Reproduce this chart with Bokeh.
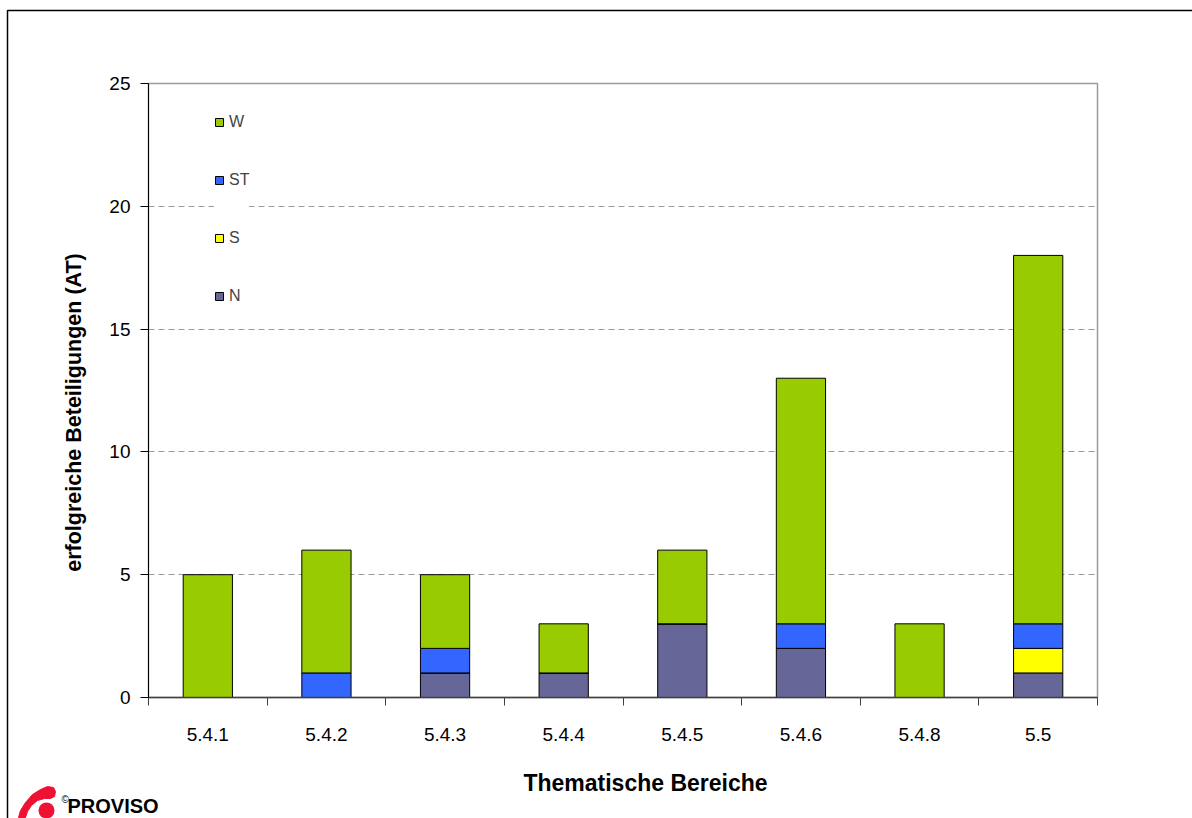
import numpy as np
from bokeh.plotting import figure
from bokeh.layouts import column
from bokeh.models import FixedTicker, Legend, LegendItem, ColumnDataSource
from bokeh.core.properties import value
from bokeh.embed import file_html
from bokeh.resources import INLINE

# Thematic areas and successful participations per stakeholder group
categories = ["5.4.1", "5.4.2", "5.4.3", "5.4.4", "5.4.5", "5.4.6", "5.4.8", "5.5"]
N  = [0, 0, 1, 1, 3, 2, 0, 1]
S  = [0, 0, 0, 0, 0, 0, 0, 1]
ST = [0, 1, 1, 0, 0, 1, 0, 1]
W  = [5, 5, 3, 2, 3, 10, 3, 15]

groups = ["N", "S", "ST", "W"]
colors = {"N": "#666699", "S": "#FFFF00", "ST": "#3366FF", "W": "#99CC00"}
y_ticks = [0, 5, 10, 15, 20, 25]
x_title = "Thematische Bereiche"
y_title = "erfolgreiche Beteiligungen (AT)"

FONT = "Liberation Sans"
WIDTH, HEIGHT = 1192, 818

# ---- page layer: outer frame, axis titles and logo (1 unit = 1 pixel) ----
page = figure(width=WIDTH, height=HEIGHT, x_range=(0, WIDTH), y_range=(0, HEIGHT),
              output_backend="svg", toolbar_location=None, min_border=0,
              frame_align=False)
page.axis.visible = False
page.grid.visible = False
page.outline_line_color = None
page.background_fill_color = "white"
page.border_fill_color = "white"

def up(v):
    return [HEIGHT - y for y in v]

page.line(x=[7, 7, WIDTH + 5], y=up([HEIGHT + 5, 10, 10]), line_color="black", line_width=1.5)

page.text(x=[645], y=up([782]), text=[x_title], text_font=value(FONT),
          text_font_size="23px", text_font_style="bold", text_color="black",
          text_align="center", text_baseline="middle")
page.text(x=[73], y=up([412]), text=[y_title], angle=np.pi / 2, text_font=value(FONT),
          text_font_size="21.5px", text_font_style="bold", text_color="black",
          text_align="center", text_baseline="middle")

# logo: red swoosh with dot, then the name
sw_x = [18, 20, 25, 32, 40, 47, 53, 55, 54, 50, 44, 37, 31, 27, 25]
sw_y = [817, 810, 802, 794, 789, 786, 787, 791, 796, 798, 798, 800, 805, 811, 817]
page.patch(x=sw_x, y=up(sw_y), fill_color="#ee1133", line_color="#ee1133", line_width=1)
page.scatter(x=[46], y=up([810]), size=16, marker="circle",
             fill_color="#ee1133", line_color=None)
page.text(x=[61], y=up([799]), text=["©"], text_font=value(FONT), text_font_size="10px",
          text_color="black", text_align="left", text_baseline="middle")
page.text(x=[67], y=up([805]), text=["PROVISO"], text_font=value(FONT),
          text_font_size="20px", text_font_style="bold", text_color="black",
          text_align="left", text_baseline="middle")

# ---- chart layer ----
pos = [i + 0.5 for i in range(len(categories))]
src = ColumnDataSource(dict(x=pos, N=N, S=S, ST=ST, W=W))

p = figure(width=WIDTH, height=HEIGHT, x_range=(0, len(categories)), y_range=(0, 25),
           output_backend="svg", toolbar_location=None,
           min_border_left=148, min_border_right=95, min_border_top=83,
           min_border_bottom=121, frame_align=False)
p.margin = (-HEIGHT, 0, 0, 0)

renderers = p.vbar_stack(groups, x="x", width=0.415, source=src,
                         fill_color=[colors[g] for g in groups],
                         line_color="black", line_width=1)

p.xaxis.ticker = FixedTicker(ticks=pos, minor_ticks=list(range(len(categories) + 1)))
p.xaxis.major_label_overrides = {v: c for v, c in zip(pos, categories)}
p.xaxis.major_tick_out = 0
p.xaxis.major_tick_in = 0
p.xaxis.minor_tick_out = 8
p.xaxis.minor_tick_in = 0
p.xaxis.minor_tick_line_color = "#404040"
p.xaxis.axis_line_color = "#404040"
p.xaxis.axis_line_width = 1.5
p.xaxis.major_label_standoff = 22

p.yaxis.ticker = FixedTicker(ticks=y_ticks)
p.yaxis.minor_tick_line_color = None
p.yaxis.major_tick_out = 8
p.yaxis.major_tick_in = 0
p.yaxis.axis_line_color = "black"
p.yaxis.major_tick_line_color = "black"
p.yaxis.major_label_standoff = 10

for ax in (p.xaxis, p.yaxis):
    ax.major_label_text_font = FONT
    ax.major_label_text_font_size = "19px"
    ax.major_label_text_color = "black"

p.xgrid.grid_line_color = None
p.ygrid.ticker = FixedTicker(ticks=[5, 10, 15, 20])
p.ygrid.grid_line_color = "#9a9a9a"
p.ygrid.grid_line_dash = "6 4"

p.outline_line_color = "#9a9a9a"
p.outline_line_width = 1.5
p.background_fill_color = "white"
p.border_fill_alpha = 0

# legend, top group first
items = [LegendItem(label=g, renderers=[r]) for g, r in zip(groups, renderers)][::-1]
legend = Legend(items=items, location=(66, 392), orientation="vertical",
                glyph_width=10, glyph_height=10, label_height=10,
                spacing=40, padding=12, margin=0,
                label_text_font=FONT, label_text_font_size="16px",
                label_standoff=5, border_line_color=None,
                background_fill_color="white", background_fill_alpha=1)
p.add_layout(legend)

layout = column(page, p, spacing=0)
open("out.html", "w").write(file_html(layout, INLINE))
